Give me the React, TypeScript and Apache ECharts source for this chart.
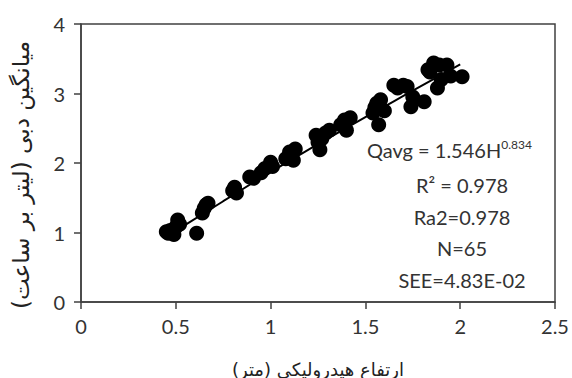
import React, { useEffect, useRef } from "react";
import * as echarts from "echarts";

const xTicks = [0, 0.5, 1, 1.5, 2, 2.5];
const yTicks = [0, 1, 2, 3, 4];

const obsH = [0.45, 0.46, 0.47, 0.48, 0.49, 0.5, 0.51, 0.52, 0.61, 0.64, 0.65, 0.66, 0.67, 0.8, 0.81, 0.82, 0.89, 0.91, 0.95, 0.97, 1.0, 1.01, 1.08, 1.1, 1.11, 1.12, 1.13, 1.24, 1.25, 1.26, 1.27, 1.29, 1.31, 1.37, 1.39, 1.4, 1.42, 1.54, 1.55, 1.56, 1.57, 1.58, 1.6, 1.65, 1.67, 1.7, 1.72, 1.74, 1.75, 1.81, 1.83, 1.84, 1.86, 1.88, 1.89, 1.9, 1.93, 1.95, 2.01];
const obsQ = [1.01, 0.99, 1.03, 1.0, 0.97, 1.08, 1.18, 1.12, 0.99, 1.28, 1.35, 1.4, 1.42, 1.6, 1.65, 1.57, 1.8, 1.78, 1.86, 1.92, 2.01, 1.95, 2.06, 2.16, 2.1, 2.04, 2.2, 2.4, 2.3, 2.19, 2.35, 2.43, 2.47, 2.55, 2.62, 2.47, 2.65, 2.72, 2.8, 2.86, 2.55, 2.91, 2.75, 3.12, 3.08, 3.12, 3.1, 2.81, 2.95, 2.88, 3.34, 3.31, 3.44, 3.08, 3.41, 3.2, 3.41, 3.25, 3.24];

const fitH = [0.55, 0.75, 1.0, 1.25, 1.5, 1.75, 2.0];
const fitQ = [1.11, 1.45, 1.87, 2.27, 2.66, 3.04, 3.42];

const xTitle = "ارتفاع هیدرولیکی (متر)";
const yTitle = "میانگین دبی (لیتر بر ساعت)";

export default function App() {
  const ref = useRef<HTMLDivElement>(null);
  useEffect(() => {
    const chart = echarts.init(ref.current!, null, { renderer: "svg" });
    const axisColor = "#404040";
    const font = "Lato, 'Open Sans', sans-serif";
    chart.setOption({
      animation: false,
      backgroundColor: "#ffffff",
      grid: {
        left: 81, right: 17, top: 24, bottom: 76,
        show: true, borderColor: axisColor, borderWidth: 1.5,
        containLabel: false, outerBoundsMode: "none",
      },
      xAxis: {
        type: "value",
        min: xTicks[0],
        max: xTicks[xTicks.length - 1],
        interval: 0.5,
        name: xTitle,
        nameLocation: "middle",
        nameGap: 58,
        nameTextStyle: { fontFamily: "'DejaVu Sans'", fontSize: 18, color: "#222" },
        axisLine: { show: true, lineStyle: { color: axisColor, width: 1.5 } },
        axisTick: { show: true, inside: false, length: 7, lineStyle: { color: axisColor, width: 1.5 } },
        axisLabel: { fontFamily: font, fontSize: 20, color: "#333", margin: 14 },
        splitLine: { show: false },
      },
      yAxis: {
        type: "value",
        min: yTicks[0],
        max: yTicks[yTicks.length - 1],
        interval: 1,
        axisLine: { show: true, lineStyle: { color: axisColor, width: 1.5 } },
        axisTick: { show: true, inside: false, length: 7, lineStyle: { color: axisColor, width: 1.5 } },
        axisLabel: { fontFamily: font, fontSize: 20, color: "#333", margin: 16 },
        splitLine: { show: false },
      },
      series: [
        {
          type: "scatter",
          data: obsH.map((h, i) => [h, obsQ[i]]),
          symbol: "circle",
          symbolSize: 15,
          itemStyle: { color: "#000000", opacity: 1 },
          z: 2,
        },
        {
          type: "line",
          data: fitH.map((h, i) => [h, fitQ[i]]),
          smooth: true,
          showSymbol: false,
          symbol: "none",
          lineStyle: { color: "#000000", width: 2 },
          z: 3,
        },
      ],
      graphic: [
        {
          type: "text",
          x: 21,
          y: 175,
          rotation: Math.PI / 2,
          style: { text: yTitle, fontFamily: "'DejaVu Sans'", fontSize: 23, fill: "#222", align: "center", verticalAlign: "middle" },
        },
        {
          type: "text",
          left: 462 - 95,
          top: 138,
          style: {
            text: "{n|Qavg = 1.546H}{s|0.834}",
            rich: {
              n: { fontFamily: font, fontSize: 20, fill: "#333", verticalAlign: "bottom" },
              s: { fontFamily: font, fontSize: 12, fill: "#333", verticalAlign: "top", padding: [0, 0, 10, 0] },
            },
          },
        },
        {
          type: "text",
          x: 462,
          y: 185,
          style: { text: "R² = 0.978", fontFamily: font, fontSize: 20, fill: "#333", align: "center", verticalAlign: "middle" },
        },
        {
          type: "text",
          x: 462,
          y: 217,
          style: { text: "Ra2=0.978", fontFamily: font, fontSize: 20, fill: "#333", align: "center", verticalAlign: "middle" },
        },
        {
          type: "text",
          x: 462,
          y: 248,
          style: { text: "N=65", fontFamily: font, fontSize: 20, fill: "#333", align: "center", verticalAlign: "middle" },
        },
        {
          type: "text",
          x: 462,
          y: 280,
          style: { text: "SEE=4.83E-02", fontFamily: font, fontSize: 20, fill: "#333", align: "center", verticalAlign: "middle" },
        },
      ],
    });
    return () => chart.dispose();
  }, []);
  return <div ref={ref} style={{ position: "fixed", left: 0, top: 0, width: 572, height: 378 }} />;
}
